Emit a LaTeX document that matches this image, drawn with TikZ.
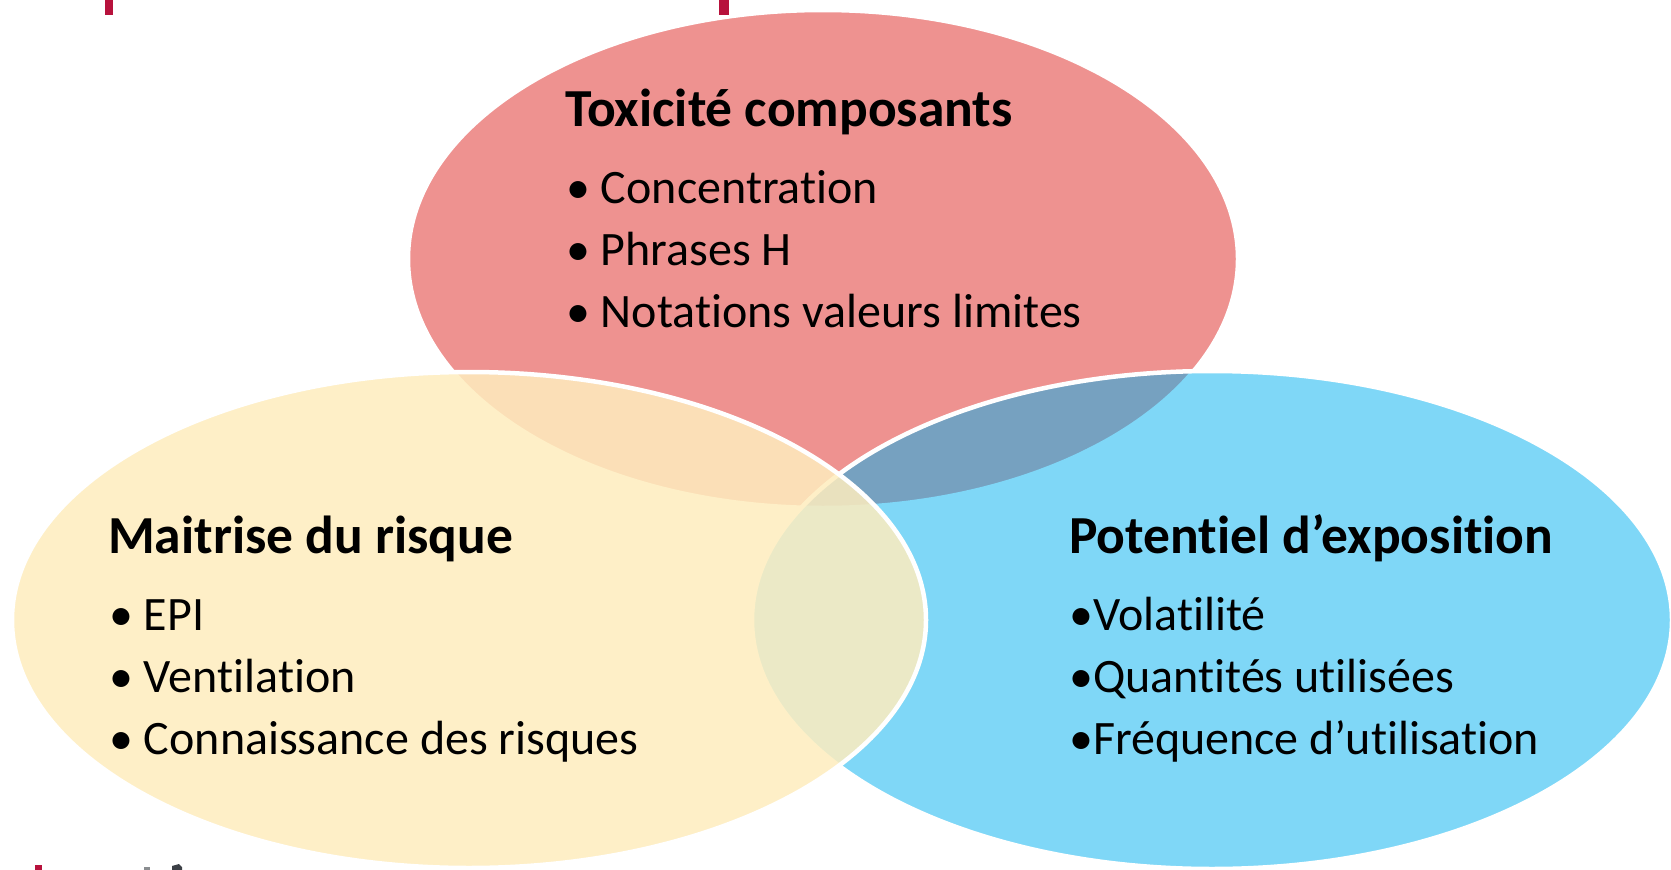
\documentclass[tikz,border=0pt]{standalone}
\usepackage{fontspec}
\setmainfont{Carlito}[Ligatures=NoCommon]
\definecolor{toxred}{RGB}{238,146,144}
\definecolor{expblue}{RGB}{0,176,240}
\definecolor{riskyellow}{RGB}{254,237,190}
\definecolor{markred}{RGB}{183,18,60}
\definecolor{markgray}{RGB}{60,64,70}
\begin{document}
\begin{tikzpicture}[x=1pt,y=-1pt,
  venn/.style={draw=white,line width=4.5pt},
  head/.style={anchor=base west,inner sep=0pt,font=\fontsize{53.5}{60}\selectfont\bfseries},
  item/.style={anchor=base west,inner sep=0pt,font=\fontsize{48}{56}\selectfont},
]
\useasboundingbox[fill=white] (0,0) rectangle (1671,870);

% three overlapping sets: toxicity on top, risk control left, exposure right
\path[venn,fill=toxred] (823,259) ellipse [x radius=415, y radius=249];
\path[venn,fill=expblue,fill opacity=0.5] (1212,620) ellipse [x radius=460, y radius=249];
\path[venn,fill=riskyellow,fill opacity=0.85] (469,620) ellipse [x radius=457, y radius=248];

% toxicity
\node[head] (toxT) at (565,126) {Toxicité composants};
\node[item] (tox1) at (566,203) {• Concentration};
\node[item] (tox2) at (566,265) {• Phrases H};
\node[item] (tox3) at (566,327) {• Notations valeurs limites};

% risk control
\node[head] (riskT) at (108,553) {Maitrise du risque};
\node[item] (risk1) at (109,630) {• EPI};
\node[item] (risk2) at (109,692) {• Ventilation};
\node[item] (risk3) at (109,754) {• Connaissance des risques};

% exposure
\node[head] (expT) at (1069,553) {Potentiel d’exposition};
\node[item] (exp1) at (1069,630) {•Volatilité};
\node[item] (exp2) at (1069,692) {•Quantités utilisées};
\node[item] (exp3) at (1069,754) {•Fréquence d’utilisation};

% slide marks cut at the edges
\fill[markred] (105,0) rectangle (113,15);
\fill[markred] (719,0) rectangle (729,15);
\fill[markred] (35,865) rectangle (42,870);
\fill[markgray!60] (144,867) rectangle (150,870);
\fill[markgray] (172,866) -- (179,864) -- (182,867) -- (182,870) -- (172,870) -- cycle;
\end{tikzpicture}
\end{document}
